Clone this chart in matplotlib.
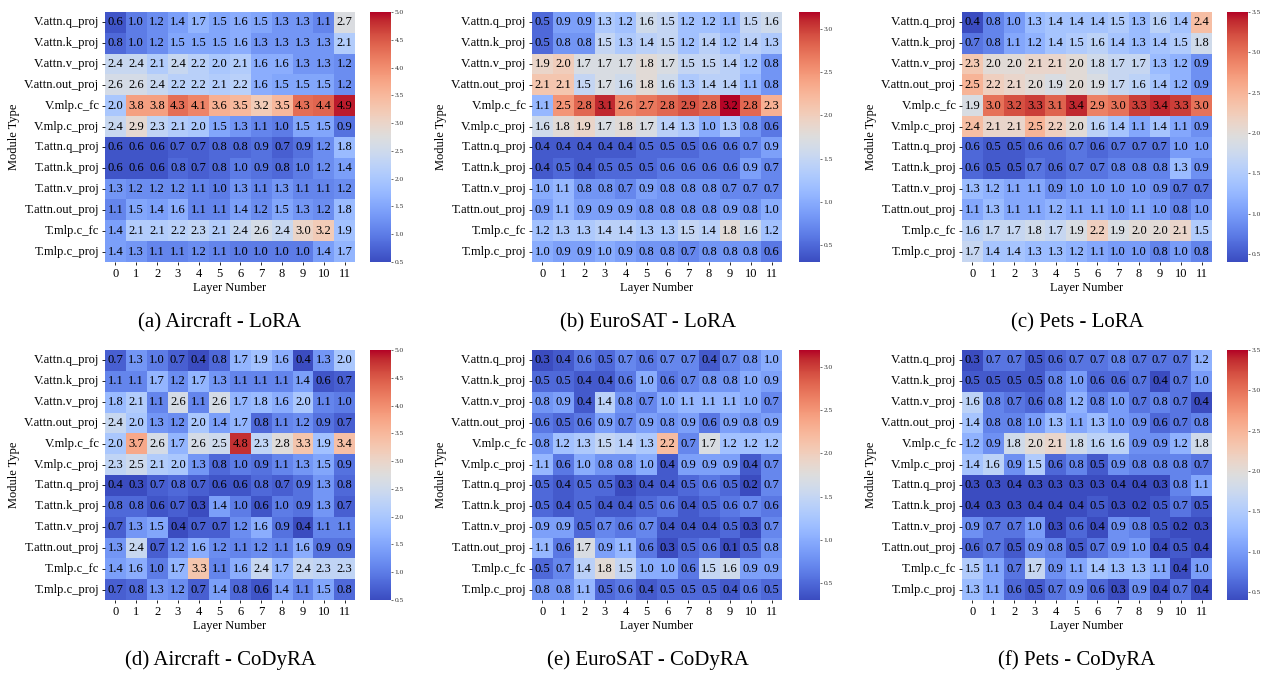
import matplotlib
matplotlib.use("Agg")
import matplotlib.pyplot as plt
import numpy as np
import seaborn as sns
from matplotlib.ticker import FormatStrFormatter

plt.rcParams['font.family'] = ['Liberation Serif', 'DejaVu Serif']

module_types = ["V.attn.q_proj", "V.attn.k_proj", "V.attn.v_proj", "V.attn.out_proj",
                "V.mlp.c_fc", "V.mlp.c_proj", "T.attn.q_proj", "T.attn.k_proj",
                "T.attn.v_proj", "T.attn.out_proj", "T.mlp.c_fc", "T.mlp.c_proj"]
layers = list(range(12))

aircraft_lora = [
    [0.6, 1.0, 1.2, 1.4, 1.7, 1.5, 1.6, 1.5, 1.3, 1.3, 1.1, 2.7],
    [0.8, 1.0, 1.2, 1.5, 1.5, 1.5, 1.6, 1.3, 1.3, 1.3, 1.3, 2.1],
    [2.4, 2.4, 2.1, 2.4, 2.2, 2.0, 2.1, 1.6, 1.6, 1.3, 1.3, 1.2],
    [2.6, 2.6, 2.4, 2.2, 2.2, 2.1, 2.2, 1.6, 1.5, 1.5, 1.5, 1.2],
    [2.0, 3.8, 3.8, 4.3, 4.1, 3.6, 3.5, 3.2, 3.5, 4.3, 4.4, 4.9],
    [2.4, 2.9, 2.3, 2.1, 2.0, 1.5, 1.3, 1.1, 1.0, 1.5, 1.5, 0.9],
    [0.6, 0.6, 0.6, 0.7, 0.7, 0.8, 0.8, 0.9, 0.7, 0.9, 1.2, 1.8],
    [0.6, 0.6, 0.6, 0.8, 0.7, 0.8, 1.0, 0.9, 0.8, 1.0, 1.2, 1.4],
    [1.3, 1.2, 1.2, 1.2, 1.1, 1.0, 1.3, 1.1, 1.3, 1.1, 1.1, 1.2],
    [1.1, 1.5, 1.4, 1.6, 1.1, 1.1, 1.4, 1.2, 1.5, 1.3, 1.2, 1.8],
    [1.4, 2.1, 2.1, 2.2, 2.3, 2.1, 2.4, 2.6, 2.4, 3.0, 3.2, 1.9],
    [1.4, 1.3, 1.1, 1.1, 1.2, 1.1, 1.0, 1.0, 1.0, 1.0, 1.4, 1.7],
]

eurosat_lora = [
    [0.5, 0.9, 0.9, 1.3, 1.2, 1.6, 1.5, 1.2, 1.2, 1.1, 1.5, 1.6],
    [0.5, 0.8, 0.8, 1.5, 1.3, 1.4, 1.5, 1.2, 1.4, 1.2, 1.4, 1.3],
    [1.9, 2.0, 1.7, 1.7, 1.7, 1.8, 1.7, 1.5, 1.5, 1.4, 1.2, 0.8],
    [2.1, 2.1, 1.5, 1.7, 1.6, 1.8, 1.6, 1.3, 1.4, 1.4, 1.1, 0.8],
    [1.1, 2.5, 2.8, 3.1, 2.6, 2.7, 2.8, 2.9, 2.8, 3.2, 2.8, 2.3],
    [1.6, 1.8, 1.9, 1.7, 1.8, 1.7, 1.4, 1.3, 1.0, 1.3, 0.8, 0.6],
    [0.4, 0.4, 0.4, 0.4, 0.4, 0.5, 0.5, 0.5, 0.6, 0.6, 0.7, 0.9],
    [0.4, 0.5, 0.4, 0.5, 0.5, 0.5, 0.6, 0.6, 0.6, 0.6, 0.9, 0.7],
    [1.0, 1.1, 0.8, 0.8, 0.7, 0.9, 0.8, 0.8, 0.8, 0.7, 0.7, 0.7],
    [0.9, 1.1, 0.9, 0.9, 0.9, 0.8, 0.8, 0.8, 0.8, 0.9, 0.8, 1.0],
    [1.2, 1.3, 1.3, 1.4, 1.4, 1.3, 1.3, 1.5, 1.4, 1.8, 1.6, 1.2],
    [1.0, 0.9, 0.9, 1.0, 0.9, 0.8, 0.8, 0.7, 0.8, 0.8, 0.8, 0.6],
]

pets_lora = [
    [0.4, 0.8, 1.0, 1.3, 1.4, 1.4, 1.4, 1.5, 1.3, 1.6, 1.4, 2.4],
    [0.7, 0.8, 1.1, 1.2, 1.4, 1.5, 1.6, 1.4, 1.3, 1.4, 1.5, 1.8],
    [2.3, 2.0, 2.0, 2.1, 2.1, 2.0, 1.8, 1.7, 1.7, 1.3, 1.2, 0.9],
    [2.5, 2.2, 2.1, 2.0, 1.9, 2.0, 1.9, 1.7, 1.6, 1.4, 1.2, 0.9],
    [1.9, 3.0, 3.2, 3.3, 3.1, 3.4, 2.9, 3.0, 3.3, 3.4, 3.3, 3.0],
    [2.4, 2.1, 2.1, 2.5, 2.2, 2.0, 1.6, 1.4, 1.1, 1.4, 1.1, 0.9],
    [0.6, 0.5, 0.5, 0.6, 0.6, 0.7, 0.6, 0.7, 0.7, 0.7, 1.0, 1.0],
    [0.6, 0.5, 0.5, 0.7, 0.6, 0.7, 0.7, 0.8, 0.8, 0.8, 1.3, 0.9],
    [1.3, 1.2, 1.1, 1.1, 0.9, 1.0, 1.0, 1.0, 1.0, 0.9, 0.7, 0.7],
    [1.1, 1.3, 1.1, 1.1, 1.2, 1.1, 1.1, 1.0, 1.1, 1.0, 0.8, 1.0],
    [1.6, 1.7, 1.7, 1.8, 1.7, 1.9, 2.2, 1.9, 2.0, 2.0, 2.1, 1.5],
    [1.7, 1.4, 1.4, 1.3, 1.3, 1.2, 1.1, 1.0, 1.0, 0.8, 1.0, 0.8],
]

aircraft_codyra = [
    [0.7, 1.3, 1.0, 0.7, 0.4, 0.8, 1.7, 1.9, 1.6, 0.4, 1.3, 2.0],
    [1.1, 1.1, 1.7, 1.2, 1.7, 1.3, 1.1, 1.1, 1.1, 1.4, 0.6, 0.7],
    [1.8, 2.1, 1.1, 2.6, 1.1, 2.6, 1.7, 1.8, 1.6, 2.0, 1.1, 1.0],
    [2.4, 2.0, 1.3, 1.2, 2.0, 1.4, 1.7, 0.8, 1.1, 1.2, 0.9, 0.7],
    [2.0, 3.7, 2.6, 1.7, 2.6, 2.5, 4.8, 2.3, 2.8, 3.3, 1.9, 3.4],
    [2.3, 2.5, 2.1, 2.0, 1.3, 0.8, 1.0, 0.9, 1.1, 1.3, 1.5, 0.9],
    [0.4, 0.3, 0.7, 0.8, 0.7, 0.6, 0.6, 0.8, 0.7, 0.9, 1.3, 0.8],
    [0.8, 0.8, 0.6, 0.7, 0.3, 1.4, 1.0, 0.6, 1.0, 0.9, 1.3, 0.7],
    [0.7, 1.3, 1.5, 0.4, 0.7, 0.7, 1.2, 1.6, 0.9, 0.4, 1.1, 1.1],
    [1.3, 2.4, 0.7, 1.2, 1.6, 1.2, 1.1, 1.2, 1.1, 1.6, 0.9, 0.9],
    [1.4, 1.6, 1.0, 1.7, 3.3, 1.1, 1.6, 2.4, 1.7, 2.4, 2.3, 2.3],
    [0.7, 0.8, 1.3, 1.2, 0.7, 1.4, 0.8, 0.6, 1.4, 1.1, 1.5, 0.8],
]

eurosat_codyra = [
    [0.3, 0.4, 0.6, 0.5, 0.7, 0.6, 0.7, 0.7, 0.4, 0.7, 0.8, 1.0],
    [0.5, 0.5, 0.4, 0.4, 0.6, 1.0, 0.6, 0.7, 0.8, 0.8, 1.0, 0.9],
    [0.8, 0.9, 0.4, 1.4, 0.8, 0.7, 1.0, 1.1, 1.1, 1.1, 1.0, 0.7],
    [0.6, 0.5, 0.6, 0.9, 0.7, 0.9, 0.8, 0.9, 0.6, 0.9, 0.8, 0.9],
    [0.8, 1.2, 1.3, 1.5, 1.4, 1.3, 2.2, 0.7, 1.7, 1.2, 1.2, 1.2],
    [1.1, 0.6, 1.0, 0.8, 0.8, 1.0, 0.4, 0.9, 0.9, 0.9, 0.4, 0.7],
    [0.5, 0.4, 0.5, 0.5, 0.3, 0.4, 0.4, 0.5, 0.6, 0.5, 0.2, 0.7],
    [0.5, 0.4, 0.5, 0.4, 0.4, 0.5, 0.6, 0.4, 0.5, 0.6, 0.7, 0.6],
    [0.9, 0.9, 0.5, 0.7, 0.6, 0.7, 0.4, 0.4, 0.4, 0.5, 0.3, 0.7],
    [1.1, 0.6, 1.7, 0.9, 1.1, 0.6, 0.3, 0.5, 0.6, 0.1, 0.5, 0.8],
    [0.5, 0.7, 1.4, 1.8, 1.5, 1.0, 1.0, 0.6, 1.5, 1.6, 0.9, 0.9],
    [0.8, 0.8, 1.1, 0.5, 0.6, 0.4, 0.5, 0.5, 0.5, 0.4, 0.6, 0.5],
]

pets_codyra = [
    [0.3, 0.7, 0.7, 0.5, 0.6, 0.7, 0.7, 0.8, 0.7, 0.7, 0.7, 1.2],
    [0.5, 0.5, 0.5, 0.5, 0.8, 1.0, 0.6, 0.6, 0.7, 0.4, 0.7, 1.0],
    [1.6, 0.8, 0.7, 0.6, 0.8, 1.2, 0.8, 1.0, 0.7, 0.8, 0.7, 0.4],
    [1.4, 0.8, 0.8, 1.0, 1.3, 1.1, 1.3, 1.0, 0.9, 0.6, 0.7, 0.8],
    [1.2, 0.9, 1.8, 2.0, 2.1, 1.8, 1.6, 1.6, 0.9, 0.9, 1.2, 1.8],
    [1.4, 1.6, 0.9, 1.5, 0.6, 0.8, 0.5, 0.9, 0.8, 0.8, 0.8, 0.7],
    [0.3, 0.3, 0.4, 0.3, 0.3, 0.3, 0.3, 0.4, 0.4, 0.3, 0.8, 1.1],
    [0.4, 0.3, 0.3, 0.4, 0.4, 0.4, 0.5, 0.3, 0.2, 0.5, 0.7, 0.5],
    [0.9, 0.7, 0.7, 1.0, 0.3, 0.6, 0.4, 0.9, 0.8, 0.5, 0.2, 0.3],
    [0.6, 0.7, 0.5, 0.9, 0.8, 0.5, 0.7, 0.9, 1.0, 0.4, 0.5, 0.4],
    [1.5, 1.1, 0.7, 1.7, 0.9, 1.1, 1.4, 1.3, 1.3, 1.1, 0.4, 1.0],
    [1.3, 1.1, 0.6, 0.5, 0.7, 0.9, 0.6, 0.3, 0.9, 0.4, 0.7, 0.4],
]

captions = ["(a) Aircraft - LoRA", "(b) EuroSAT - LoRA", "(c) Pets - LoRA",
            "(d) Aircraft - CoDyRA", "(e) EuroSAT - CoDyRA", "(f) Pets - CoDyRA"]

# colour ranges per dataset
ranges = {"aircraft": (0.5, 5.0), "eurosat": (0.3, 3.2), "pets": (0.4, 3.5)}
cbar_ticks = {"aircraft": [0.5, 1.0, 1.5, 2.0, 2.5, 3.0, 3.5, 4.0, 4.5, 5.0],
              "eurosat": [0.5, 1.0, 1.5, 2.0, 2.5, 3.0],
              "pets": [0.5, 1.0, 1.5, 2.0, 2.5, 3.0, 3.5]}

panels = [
    (aircraft_lora, "aircraft"), (eurosat_lora, "eurosat"), (pets_lora, "pets"),
    (aircraft_codyra, "aircraft"), (eurosat_codyra, "eurosat"), (pets_codyra, "pets"),
]

W, H = 1262, 673
fig = plt.figure(figsize=(W / 100, H / 100), dpi=100)

heat_left = [105, 532, 962]
heat_w = 250
cbar_left = [370, 799, 1227]
cbar_w = 21
heat_top = [12, 350]
heat_h = 250
cap_x = [220, 648, 1077]
cap_y = [323, 660]

for i, (data, key) in enumerate(panels):
    r, c = divmod(i, 3)
    ax = fig.add_axes([heat_left[c] / W, 1 - (heat_top[r] + heat_h) / H, heat_w / W, heat_h / H])
    cax = fig.add_axes([cbar_left[c] / W, 1 - (heat_top[r] + heat_h) / H, cbar_w / W, heat_h / H])
    vmin, vmax = ranges[key]
    sns.heatmap(np.array(data), ax=ax, cbar_ax=cax, cmap="coolwarm", vmin=vmin, vmax=vmax,
                annot=True, fmt=".1f", annot_kws={"size": 9, "color": "black"},
                xticklabels=layers, yticklabels=module_types)
    ax.set_xticklabels([str(l) for l in layers], rotation=0, fontsize=9)
    ax.set_yticklabels(module_types, rotation=0, fontsize=9)
    ax.tick_params(axis="both", length=2.5, width=0.6, pad=1.5)
    ax.set_xlabel("Layer Number", fontsize=9, labelpad=2)
    ax.set_ylabel("Module Type", fontsize=9, labelpad=3)
    cax.set_yticks(cbar_ticks[key])
    cax.yaxis.set_major_formatter(FormatStrFormatter("%.1f"))
    cax.tick_params(labelsize=5.3, length=1.5, width=0.5, pad=1, colors="#333333")
    for s in cax.spines.values():
        s.set_visible(False)
    fig.text(cap_x[c] / W, 1 - cap_y[r] / H, captions[i], ha="center", va="center", fontsize=15)

fig.savefig("out.png", dpi=100)
